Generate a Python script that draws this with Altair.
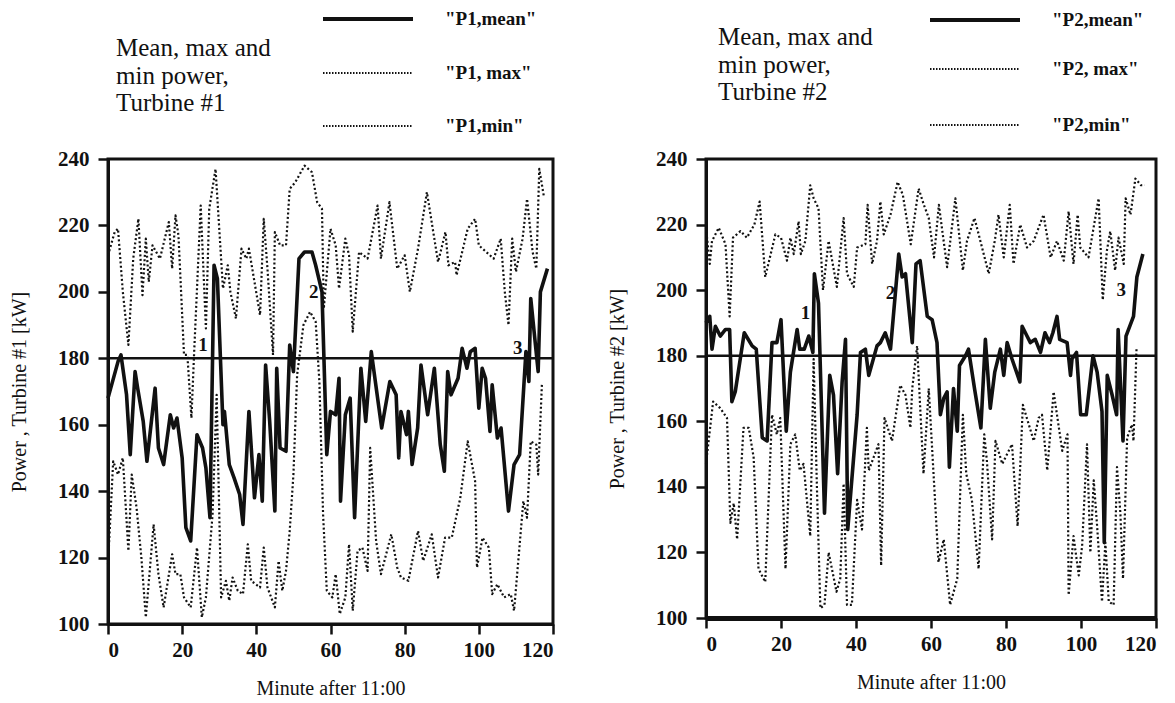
import altair as alt
import pandas as pd

# ---------------- data ----------------
X_TICKS = [0, 20, 40, 60, 80, 100, 120]
Y_TICKS = [100, 120, 140, 160, 180, 200, 220, 240]
REF_LEVEL = [180]

# Turbine 1
p1_mean_t = [0, 2.7, 3.5, 5, 6, 7.3, 8, 9.5, 10.5, 12.7, 13.6, 15, 16.8, 17.7, 18.6, 20, 21, 22.3, 24, 25.5,
             26.4, 27.5, 28.6, 29.5, 31, 31.4, 32.7, 34, 35.5, 36.4, 38, 39.5, 40.7, 41.6, 42.5, 43.6, 45, 45.5,
             46.4, 48, 49, 50, 51.5, 53, 55, 56, 57.7, 59, 60, 61.4, 62.3, 62.7, 64, 65.3, 66.5, 68.2, 69.5, 71,
             73.8, 76, 77.7, 78.4, 79, 80.5, 81, 82, 83.5, 84.4, 86.2, 88, 89.6, 90.7, 91.6, 92.5, 94.4, 95.5,
             96.8, 97.7, 99, 100, 100.9, 101.8, 103, 103.6, 105, 106, 108, 109.5, 111, 112.7, 113.5, 114, 116,
             116.6, 118.5]
p1_mean_v = [168, 179, 181, 169, 151, 176, 171, 161, 149, 171, 153, 148, 163, 159, 162, 150, 129, 125, 157, 153,
             147, 132, 208, 204, 160, 164, 148, 144, 139, 130, 164, 138, 151, 137, 178, 161, 134, 177,
             153, 152, 184, 176, 210, 212, 212, 208, 200, 151, 164, 163, 174, 137, 163, 168, 132, 177, 161, 182,
             159, 173, 169, 150, 164, 157, 164, 148, 159, 178, 163, 177, 154, 146, 176, 169, 174, 183,
             177, 182, 183, 165, 177, 174, 158, 172, 156, 159, 134, 148, 151, 182, 173, 198, 176,
             200, 207]

p1_max_t = [0, 1.8, 2.7, 4, 5.5, 6.8, 8.2, 9.3, 10.2, 11, 12, 14, 16.4, 17.3, 18.2, 19, 20.5, 21.4, 22.5, 23.2,
            25, 26.4, 27.3, 29, 31, 32.3, 33, 34.5, 36, 37.3, 38, 41, 42, 43, 44.5, 45, 46.4, 48, 49, 50.5, 53,
            55, 56.4, 57.7, 58.2, 60, 61.4, 62.3, 64, 65, 66, 67.7, 70, 72.7, 73.6, 75.9, 78, 80, 81.4, 83.6, 86,
            89, 91, 91.8, 93.6, 94, 97, 99, 100, 104, 105.9, 107, 108, 109, 110, 111.8, 113, 114.5, 115.5, 116.3,
            117.5]
p1_max_v = [211, 218, 219, 200, 184, 210, 222, 199, 216, 203, 214, 210, 221, 207, 223, 217, 181, 181, 162, 181,
            226, 189, 225, 237, 201, 208, 200, 192, 213, 210, 213, 193, 222, 207, 181, 218, 214, 214, 231, 233, 238,
            236, 227, 225, 195, 219, 214, 201, 216, 211, 188, 212, 210, 226, 210, 227, 207, 211, 200, 213, 230,
            209, 218, 208, 209, 205, 219, 222, 214, 210, 216, 200, 190, 216, 206, 216, 228, 212, 207, 237,
            229]

p1_min_t = [0, 1.4, 2.7, 4, 5.5, 6.4, 7.7, 9, 10.2, 12.3, 13.6, 15, 17.3, 18.2, 19.5, 20.5, 22.3, 24, 25.3, 26.4,
            28.2, 29.3, 30.5, 31.8, 32.7, 33.6, 35, 36.4, 37.7, 38.6, 41, 42, 43, 45, 46, 47, 48, 49, 50, 51, 52.7,
            54.5, 56, 57, 58, 59, 60.5, 61.4, 62.5, 64, 65, 66, 67.3, 68.6, 70, 70.7, 72.3, 73.6, 76.4, 78, 79, 81,
            83.6, 85, 87.3, 89, 90.9, 92.7, 95, 97, 99, 99.5, 101, 102.7, 103.6, 105, 106.8, 108.6, 109.5, 112,
            113, 114, 115.5, 116, 117]
p1_min_v = [118, 149, 145, 150, 122, 145, 135, 120, 102, 130, 115, 105, 121, 115, 115, 108, 105, 123, 102, 108,
            133, 169, 108, 113, 107, 114, 110, 109, 124, 113, 111, 123, 111, 105, 119, 110, 116, 128, 145, 175, 190,
            194, 191, 173, 133, 110, 108, 115, 103, 108, 124, 104, 122, 123, 116, 153, 125, 115, 127, 117, 114, 113,
            128, 119, 127, 114, 126, 126, 138, 155, 143, 117, 126, 123, 109, 112, 108, 109, 104, 137,
            132, 155, 154, 145, 172]

# Turbine 2
p2_mean_t = [0, 1, 1.6, 2.5, 3.8, 5.2, 6.3, 6.9, 7.8, 10.2, 12.3, 13.4, 15, 16.3, 17.6, 18.9, 20, 21.4, 22.5, 24.3,
             25, 26.2, 27.4, 28.5, 28.9, 30, 31.6, 33, 34, 35.1, 36.3, 37.2, 37.8, 40.3, 41.2, 42.5, 43.4, 45.6,
             46.5, 47.8, 49.2, 51.4, 52.3, 53.2, 55, 56, 57.1, 59, 60.3, 61.6, 62.5, 63.4, 64.3, 64.9, 66, 67, 67.6,
             69.2, 70, 71.6, 73.3, 74.5, 75.8, 77, 78.5, 79.4, 80.3, 81.6, 83.7, 84.3, 85.6, 86.5, 87.8, 89.2, 90.4,
             91.6, 92.5, 93.6, 94.3, 96.3, 97.2, 97.6, 98.8, 99.9, 101.4, 103.2, 104.3, 105.6, 106.2, 107, 108.3,
             109.5, 109.9, 110.5, 111.2, 112, 114, 114.9, 116.5]
p2_mean_v = [190, 192, 182, 189, 186, 188, 188, 166, 169, 187, 183, 182, 155, 154, 184, 184, 191, 157, 175, 188,
             182, 182, 186, 181, 205, 196, 132, 174, 168, 144, 172, 185, 127, 162, 181, 182, 174, 183,
             184, 187, 182, 211, 204, 205, 184, 208, 209, 192, 191, 184, 162, 167, 169, 146, 170, 157, 177,
             180, 182, 170, 158, 185, 164, 175, 182, 174, 184, 179, 172, 189, 186, 184, 185, 181, 187,
             184, 187, 192, 185, 184, 174, 179, 181, 162, 162, 180, 175, 163, 123, 174, 168,
             162, 188, 172, 154, 186, 192, 204, 211]

p2_max_t = [0, 1, 1.6, 3.4, 5.2, 6.3, 7.2, 9.2, 10.9, 12.9, 14.3, 15.8, 18.5, 20, 21.6, 22.5, 23.4, 24.7, 25.3,
            26.5, 27.8, 28.7, 30, 31.2, 32.7, 34.9, 36.7, 37.6, 39.4, 40.3, 42.5, 43.1, 44.3, 45.6, 46.5, 47.4,
            49.2, 51.1, 52.5, 54.6, 56.7, 58.1, 59.4, 60.8, 62.1, 64.3, 66.5, 68.5, 69.6, 71.6, 75.4, 77, 78, 79.4,
            81, 82, 83.8, 85.6, 87.4, 90, 91.9, 93.6, 95.4, 96.7, 98, 99.1, 99.8, 102, 104.7, 105.8, 106.9, 107.8,
            109.1, 110, 111.4, 111.9, 113.2, 114.5, 116, 117]
p2_max_v = [219, 208, 215, 219, 214, 192, 216, 218, 216, 220, 227, 204, 217, 216, 209, 216, 211, 221, 211,
            215, 232, 228, 225, 200, 215, 201, 222, 205, 201, 213, 214, 226, 208, 215, 227, 217,
            223, 233, 229, 214, 231, 226, 222, 210, 226, 207, 228, 206, 215, 222, 205, 215, 223, 210,
            226, 208, 220, 213, 215, 223, 210, 215, 209, 224, 208, 223, 213, 210, 228, 197, 212, 218,
            206, 216, 208, 228, 223, 234, 232, 232]

p2_min_t = [0, 1.9, 3.8, 5.6, 6.5, 7.4, 8.3, 10, 11.4, 12.7, 14, 15.8, 17.6, 18.9, 19.8, 21.2, 22.5, 23.8, 25, 26,
            27.8, 28.7, 29.6, 30.5, 31.6, 32.7, 34.8, 35.8, 36.7, 37.6, 38.9, 40.3, 41.6, 42.9, 43.4, 46, 46.7,
            47.6, 49.6, 51.8, 53.2, 54.5, 55, 56.3, 58, 59.4, 62, 63.4, 65.1, 67, 68.5, 69.4, 70.9, 72.7, 74.2,
            74.9, 76.3, 77.2, 79, 80.3, 81.6, 83.1, 84.5, 87.4, 88.7, 89.6, 91, 92.7, 95, 96.4, 96.7, 98, 99.4,
            100.3, 101.6, 102.5, 103.4, 104.3, 105.6, 106.5, 107.4, 108.7, 109.6, 110.5, 111.2, 112.3, 113.6,
            114, 114.8]
p2_min_v = [147, 166, 164, 161, 129, 135, 124, 158, 158, 149, 115, 111, 162, 156, 161, 115, 153, 156, 145, 147,
            125, 179, 139, 103, 104, 120, 108, 112, 141, 104, 104, 136, 127, 158, 145, 153, 116,
            161, 154, 171, 168, 158, 170, 183, 144, 170, 117, 124, 104, 112, 162, 144, 136, 115, 156,
            148, 124, 154, 147, 150, 153, 128, 165, 154, 161, 162, 145, 169, 151, 156, 107, 125, 113,
            122, 153, 120, 142, 128, 105, 123, 105, 104, 146, 132, 112, 155, 159,
            154, 182]

# numbered markers inside the panels
p1_ann_t = [25.6, 55.5, 110.5]
p1_ann_v = [184, 200, 183]
p2_ann_t = [26.5, 49.2, 110.7]
p2_ann_v = [193, 199, 200]
ann_text = ["1", "2", "3"]

p1_title = "Mean, max and\nmin power,\nTurbine #1"
p2_title = "Mean, max and\n\u00a0min power,\nTurbine #2"
p1_legend = ['"P1,mean"', '"P1, max"', '"P1,min"']
p2_legend = ['"P2,mean"', '"P2, max"', '"P2,min"']

SERIF = "Liberation Serif"
INK = "#111111"


def panel(series, ann_t, ann_v, title_txt, legend_txt, ytitle, w, h, bottom_w,
          title_x, title_y, leg_x, rows_y):
    xsc = alt.Scale(domain=[0, 120], nice=False, zero=False)
    ysc = alt.Scale(domain=[100, 240], nice=False, zero=False)
    xax = alt.Axis(values=X_TICKS, title="Minute after 11:00", domainWidth=bottom_w,
                   titlePadding=18, labelPadding=5)
    yax = alt.Axis(values=Y_TICKS, title=ytitle, titlePadding=28, labelPadding=9)
    X = lambda: alt.X("t:Q", scale=xsc, axis=xax)
    Y = lambda: alt.Y("v:Q", scale=ysc, axis=yax)

    layers = []
    # reference line at 180 kW
    layers.append(alt.Chart(pd.DataFrame({"v": REF_LEVEL})).mark_rule(
        color=INK, strokeWidth=2.5).encode(y=Y()))
    styles = [dict(strokeWidth=3.6), dict(strokeWidth=2.2, strokeDash=[2, 2.4]),
              dict(strokeWidth=2.2, strokeDash=[2, 2.4])]
    for (t, v), st in list(zip(series, styles))[::-1]:
        df = pd.DataFrame({"t": t, "v": v})
        layers.append(alt.Chart(df).mark_line(color=INK, strokeJoin="round", **st).encode(x=X(), y=Y()))
    adf = pd.DataFrame({"t": ann_t, "v": ann_v, "s": ann_text})
    layers.append(alt.Chart(adf).mark_text(font=SERIF, fontWeight="bold", fontSize=19, color=INK).encode(
        x=X(), y=Y(), text="s:N"))
    # block title
    layers.append(alt.Chart(pd.DataFrame({"s": [title_txt]})).mark_text(
        font=SERIF, fontSize=25, color=INK, align="left", baseline="alphabetic",
        lineBreak="\n", lineHeight=27.5).encode(x=alt.value(title_x), y=alt.value(title_y), text="s:N"))
    # legend rows
    for i, (lab, yy) in enumerate(zip(legend_txt, rows_y)):
        rst = dict(strokeWidth=3.8) if i == 0 else dict(strokeWidth=1.8, strokeDash=[1.5, 1.5])
        layers.append(alt.Chart(pd.DataFrame({"s": [lab]})).mark_rule(color=INK, **rst).encode(
            x=alt.value(leg_x), x2=alt.value(leg_x + 90), y=alt.value(yy)))
        layers.append(alt.Chart(pd.DataFrame({"s": [lab]})).mark_text(
            font=SERIF, fontWeight="bold", fontSize=19, color=INK, align="left", baseline="middle").encode(
            x=alt.value(leg_x + 122), y=alt.value(yy), text="s:N"))
    return alt.layer(*layers).properties(width=w, height=h)


left = panel([(p1_mean_t, p1_mean_v), (p1_max_t, p1_max_v), (p1_min_t, p1_min_v)],
             p1_ann_t, p1_ann_v, p1_title, p1_legend, "Power , Turbine #1 [kW]", 445, 465, 3,
             8, -103, 215, [-140, -86, -33])
right = panel([(p2_mean_t, p2_mean_v), (p2_max_t, p2_max_v), (p2_min_t, p2_min_v)],
              p2_ann_t, p2_ann_v, p2_title, p2_legend, "Power , Turbine #2 [kW]", 450, 459, 5,
              12, -114, 224, [-139, -90, -34])

chart = alt.hconcat(left, right, spacing=50).properties(
    padding={"left": 0, "top": 0, "right": 0, "bottom": 0},
    background="white"
).configure_view(stroke=INK, strokeWidth=3).configure_axis(
    grid=False, domainColor=INK, domainWidth=3, tickColor=INK, tickWidth=2.5, tickSize=10,
    labelFont=SERIF, labelFontWeight="bold", labelFontSize=21, labelColor=INK,
    titleFont=SERIF, titleFontWeight="normal", titleFontSize=20, titleColor=INK
)

chart.save("out.html", embed_options={"renderer": "svg", "actions": False})
